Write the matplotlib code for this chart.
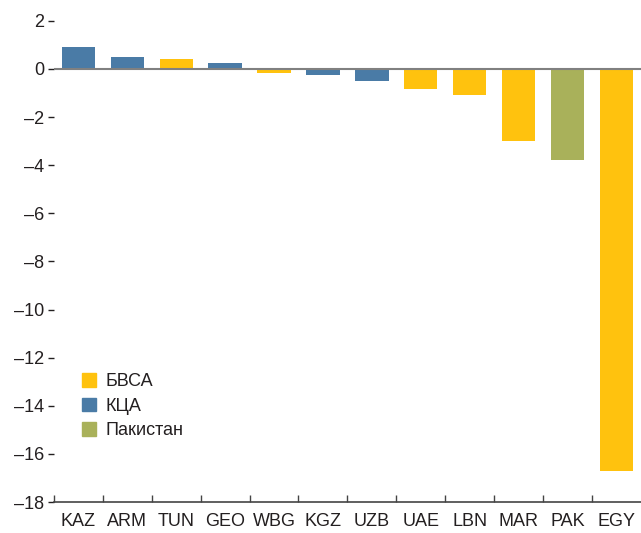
import matplotlib.pyplot as plt
import numpy as np
from matplotlib.patches import Patch

plt.rcParams['font.family'] = ['Liberation Sans', 'DejaVu Sans']

countries = ['KAZ', 'ARM', 'TUN', 'GEO', 'WBG', 'KGZ', 'UZB', 'UAE', 'LBN', 'MAR', 'PAK', 'EGY']
values = [0.9, 0.5, 0.4, 0.25, -0.15, -0.25, -0.5, -0.85, -1.1, -3.0, -3.8, -16.7]
groups = ['KCA', 'KCA', 'MENA', 'KCA', 'MENA', 'KCA', 'KCA', 'MENA', 'MENA', 'MENA', 'PAK', 'MENA']

group_colors = {'MENA': '#FFC20E', 'KCA': '#4A7BA6', 'PAK': '#A9B15A'}
group_labels = {'MENA': 'БВСА', 'KCA': 'КЦА', 'PAK': 'Пакистан'}

fig = plt.figure(figsize=(6.41, 5.33), dpi=100)
ax = fig.add_axes([0.084, 0.058, 0.916, 0.903])

x = np.arange(len(countries))
ax.bar(x, values, width=0.68, color=[group_colors[g] for g in groups], zorder=2)
ax.axhline(0, color='#808080', linewidth=1.5, zorder=3)

ax.set_xlim(-0.5, len(countries) - 0.5)
ax.set_ylim(-18, 2)

yt = np.arange(-18, 3, 2)
ax.set_yticks(yt)
ax.set_yticklabels([str(v).replace('-', '–') for v in yt], fontsize=13, color='#231f20')
ax.tick_params(axis='y', length=4, width=1, color='#231f20', pad=3, direction='out')

ax.set_xticks(x)
ax.set_xticklabels(countries, fontsize=13, color='#231f20')
ax.set_xticks(np.arange(-0.5, len(countries) - 0.5, 1), minor=True)
ax.tick_params(axis='x', which='major', length=0, pad=8)
ax.tick_params(axis='x', which='minor', length=5, width=1, color='#444444', direction='in')

for s in ['left', 'right', 'top']:
    ax.spines[s].set_visible(False)
ax.spines['bottom'].set_color('#444444')
ax.spines['bottom'].set_linewidth(1.2)

handles = [Patch(color=group_colors[g], label=group_labels[g]) for g in ['MENA', 'KCA', 'PAK']]
ax.legend(handles=handles, loc='lower left', bbox_to_anchor=(0.02, 0.097), frameon=False,
          fontsize=13, handlelength=0.8, handleheight=0.8, handletextpad=0.5, labelspacing=0.4,
          labelcolor='#231f20')

fig.savefig('out.png', dpi=100)
